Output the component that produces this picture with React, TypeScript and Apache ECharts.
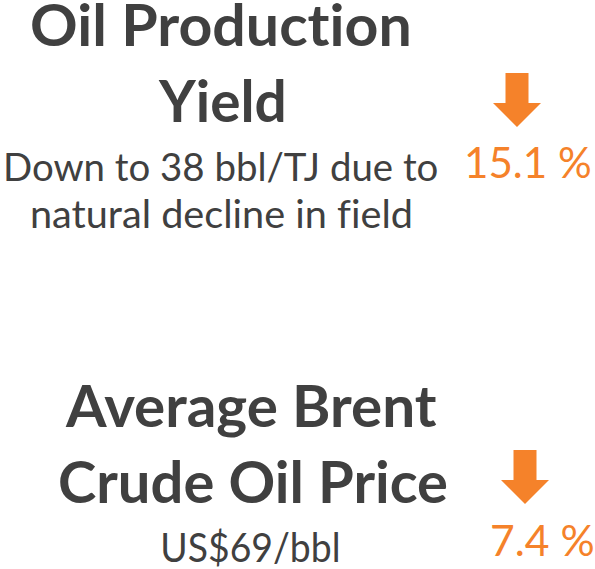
import React, { useEffect, useRef } from "react";
import * as echarts from "echarts";

// ---- data ----
const titleLines: string[][] = [
  ["Oil Production", "Yield"],
  ["Average Brent", "Crude Oil Price"],
];
const detailLines: string[][] = [
  ["Down to 38 bbl/TJ due to", "natural decline in field"],
  ["US$69/bbl"],
];
const changePct: number[] = [15.1, 7.4];
const changeDir: string[] = ["down", "down"];

// ---- layout / style ----
const DARK = "#404040";
const ORANGE = "#F5822A";
const FONT = "Lato";

// [inkLeft, inkRight, baseline, fontSize]
const titleBox: number[][][] = [
  [[32, 410, 48, 58], [158, 284, 124, 58]],
  [[65, 437, 430, 58], [60, 447, 505, 58]],
];
const detailBox: number[][][] = [
  [[6, 437, 182, 38], [32, 410, 230, 38]],
  [[163, 338, 563, 41]],
];
const pctBox: number[][] = [
  [467, 590, 180, 42],
  [492, 593, 558, 42],
];
// [centerX, top]
const arrowPos: number[][] = [
  [517, 73],
  [525, 450],
];

let measureCtx: CanvasRenderingContext2D | null = null;
function inkMetrics(text: string, font: string) {
  if (!measureCtx) measureCtx = document.createElement("canvas").getContext("2d");
  if (!measureCtx) return null;
  measureCtx.font = font;
  const m = measureCtx.measureText(text);
  return { L: m.actualBoundingBoxLeft, R: m.actualBoundingBoxRight };
}

function fittedText(text: string, box: number[], weight: string, fill: string) {
  const [left, right, baseline, size] = box;
  const font = `${weight} ${size}px ${FONT}`;
  const m = inkMetrics(text, font);
  let s = 1;
  let x = left;
  if (m && m.L + m.R > 0) {
    s = (right - left) / (m.L + m.R);
    x = left + s * m.L;
  }
  return {
    type: "text",
    x,
    y: baseline - 0.43 * size,
    scaleX: s,
    silent: true,
    style: {
      text,
      x: 0,
      y: 0,
      fill,
      font,
      lineHeight: Math.round(size * 0.8),
      textAlign: "left",
      textVerticalAlign: "middle",
    },
  };
}

function arrowEl(cx: number, top: number, dir: string) {
  const sw = 11.5; // half shaft width
  const sh = 30; // shaft height
  const hw = 24; // half head width
  const hh = 24; // head height
  const pts =
    dir === "down"
      ? [
          [cx - sw, top],
          [cx + sw, top],
          [cx + sw, top + sh],
          [cx + hw, top + sh],
          [cx, top + sh + hh],
          [cx - hw, top + sh],
          [cx - sw, top + sh],
        ]
      : [
          [cx - sw, top + sh + hh],
          [cx + sw, top + sh + hh],
          [cx + sw, top + hh],
          [cx + hw, top + hh],
          [cx, top],
          [cx - hw, top + hh],
          [cx - sw, top + hh],
        ];
  return {
    type: "polygon",
    shape: { points: pts },
    style: { fill: ORANGE },
    silent: true,
  };
}

export default function App() {
  const ref = useRef<HTMLDivElement>(null);
  useEffect(() => {
    if (!ref.current) return;
    const chart = echarts.init(ref.current, null, { renderer: "svg" });
    const elements: any[] = [];
    titleLines.forEach((lines, b) => {
      lines.forEach((t, i) => {
        elements.push(fittedText(t, titleBox[b][i], "bold", DARK));
      });
      detailLines[b].forEach((t, i) => {
        elements.push(fittedText(t, detailBox[b][i], "normal", DARK));
      });
      elements.push(arrowEl(arrowPos[b][0], arrowPos[b][1], changeDir[b]));
      elements.push(
        fittedText(`${changePct[b].toFixed(1)} %`, pctBox[b], "normal", ORANGE)
      );
    });
    chart.setOption({
      animation: false,
      backgroundColor: "#ffffff",
      graphic: { elements },
    });
    return () => chart.dispose();
  }, []);
  return (
    <>
      <style>{`text{font-variant-ligatures:none !important;font-feature-settings:"liga" 0,"clig" 0 !important;}`}</style>
      <div
        ref={ref}
        style={{ position: "fixed", left: 0, top: 0, width: 595, height: 569 }}
      />
    </>
  );
}
